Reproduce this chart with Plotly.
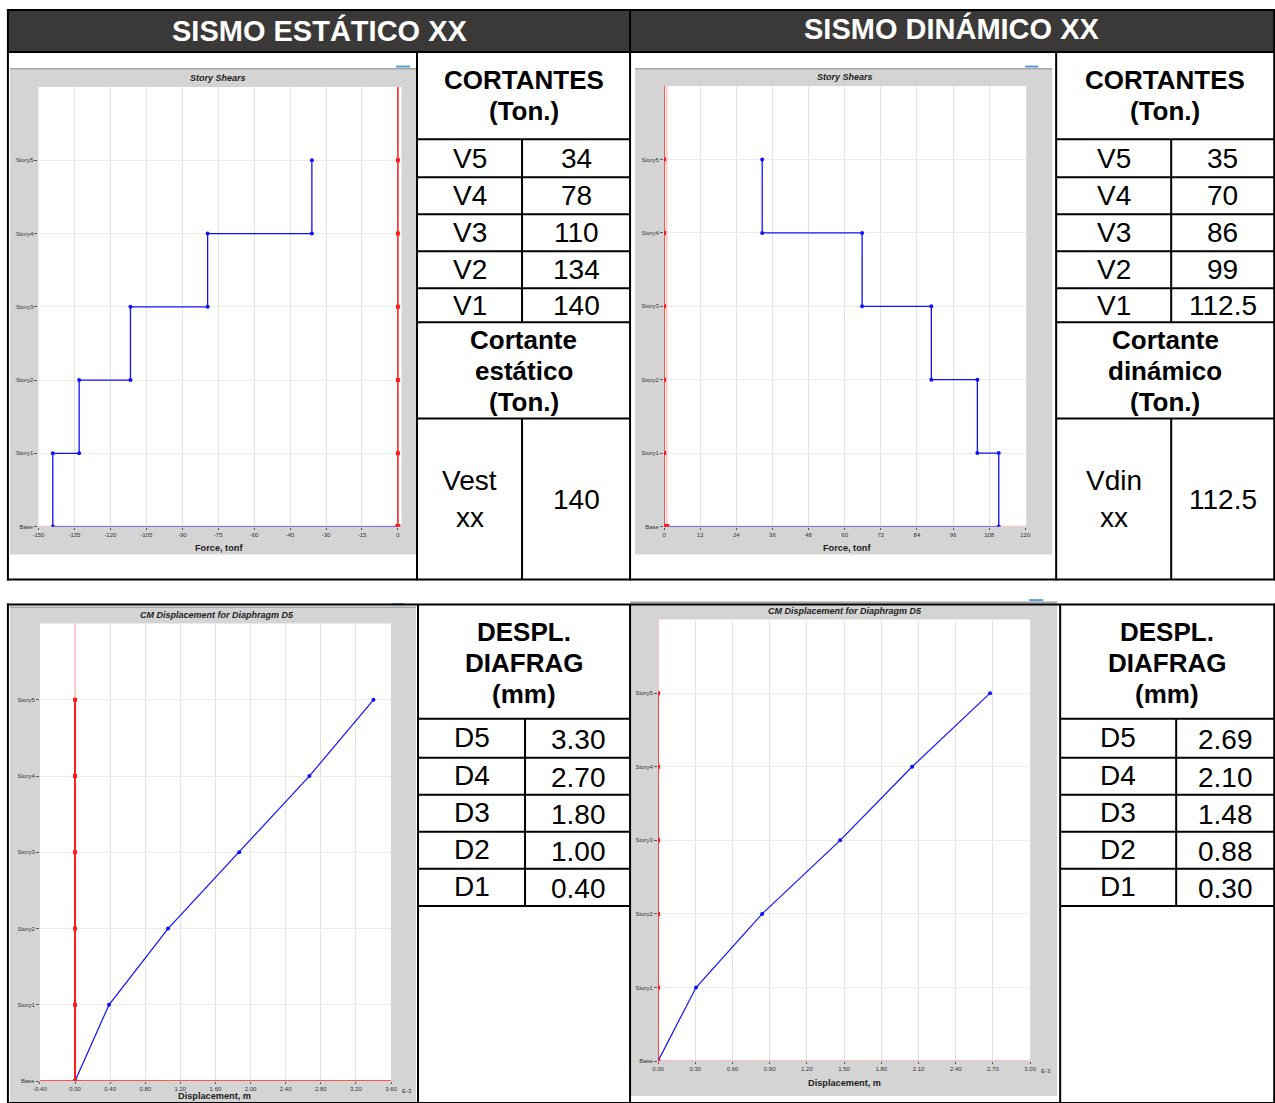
import plotly.graph_objects as go

# figure size; the picture-space coordinates below are mapped to paper
W, H = 1290, 1107
SX, OX = 0.9897, 7.08
SY, OY = 0.9963, 0.0

# ---------------- data ----------------
story_labels = ["Base", "Story1", "Story2", "Story3", "Story4", "Story5"]
story_levels = [0, 1, 2, 3, 4, 5]

# Story shears (tonf), Story1..Story5
static_shear = [-144.0, -133.0, -111.6, -79.4, -35.9]
dynamic_shear = [111.2, 104.1, 88.8, 65.8, 32.6]
ortho_zero = [0, 0, 0, 0, 0, 0]

# CM displacement for diaphragm D5 (E-3 m), Base..Story5
static_disp = [0.0, 0.387, 1.06, 1.87, 2.67, 3.40]
dynamic_disp = [0.0, 0.306, 0.839, 1.468, 2.048, 2.677]

# axis ticks
xt_static_shear = [-150, -135, -120, -105, -90, -75, -60, -45, -30, -15, 0]
xt_dynamic_shear = [0, 12, 24, 36, 48, 60, 72, 84, 96, 108, 120]
xt_static_disp = [-0.40, 0.00, 0.40, 0.80, 1.20, 1.60, 2.00, 2.40, 2.80, 3.20, 3.60]
xt_dynamic_disp = [0.00, 0.30, 0.60, 0.90, 1.20, 1.50, 1.80, 2.10, 2.40, 2.70, 3.00]

# table texts
header_static = "SISMO ESTÁTICO XX"
header_dynamic = "SISMO DINÁMICO XX"
shear_head = ["CORTANTES", "(Ton.)"]
static_base_head = ["Cortante", "estático", "(Ton.)"]
dynamic_base_head = ["Cortante", "dinámico", "(Ton.)"]
disp_head = ["DESPL.", "DIAFRAG", "(mm)"]
shear_labels = ["V5", "V4", "V3", "V2", "V1"]
shear_static_vals = ["34", "78", "110", "134", "140"]
shear_dynamic_vals = ["35", "70", "86", "99", "112.5"]
base_static = (["Vest", "xx"], "140")
base_dynamic = (["Vdin", "xx"], "112.5")
disp_labels = ["D5", "D4", "D3", "D2", "D1"]
disp_static_vals = ["3.30", "2.70", "1.80", "1.00", "0.40"]
disp_dynamic_vals = ["2.69", "2.10", "1.48", "0.88", "0.30"]

# ---------------- helpers ----------------
def fx(px):
    return ((px - OX) / SX) / W

def fy(py):
    return 1 - ((py - OY) / SY) / H

FONT = "Liberation Sans, Arial, sans-serif"
shapes = []
annotations = []

def rect(x0, y0, x1, y1, fill, layer="below"):
    shapes.append(dict(type="rect", xref="paper", yref="paper", x0=fx(x0), x1=fx(x1),
                       y0=fy(y1), y1=fy(y0), fillcolor=fill, line=dict(width=0), layer=layer))

def hline(y, x0, x1, w=2, color="black"):
    shapes.append(dict(type="line", xref="paper", yref="paper", x0=fx(x0), x1=fx(x1),
                       y0=fy(y), y1=fy(y), line=dict(color=color, width=w), layer="above"))

def vline(x, y0, y1, w=2, color="black"):
    shapes.append(dict(type="line", xref="paper", yref="paper", x0=fx(x), x1=fx(x),
                       y0=fy(y0), y1=fy(y1), line=dict(color=color, width=w), layer="above"))

def text(x, y, s, size, bold=False, color="black", italic=False, xanchor="center", yanchor="middle"):
    if italic:
        s = "<i>" + s + "</i>"
    if bold:
        s = "<b>" + s + "</b>"
    annotations.append(dict(xref="paper", yref="paper", x=fx(x), y=fy(y), text=s, showarrow=False,
                            xanchor=xanchor, yanchor=yanchor,
                            font=dict(family=FONT, size=size, color=color)))

def lines(x, ys, texts, size, bold=False):
    for yy, tt in zip(ys, texts):
        text(x, yy, tt, size, bold=bold)

fig = go.Figure()

# ---------------- chart panels ----------------
panels = [
    # gray panel (x0,y0,x1,y1), plot area (x0,y0,x1,y1), blue tab
    ((10, 68, 416, 554), (38.5, 87, 401.5, 526), (396, 65.5, 410, 67.5)),
    ((635, 68, 1052, 554), (664, 86, 1026, 526), (1025, 65.5, 1038, 67.5)),
    ((10, 606, 416, 1103), (40, 623, 391, 1080), (391, 602.5, 404, 604.5)),
    ((630, 601, 1057, 1095), (658, 619, 1030, 1060), (1029, 598.5, 1043, 600.5)),
]
for g, p, b in panels:
    rect(*g, "#d4d4d4")
    rect(g[0], g[1], g[2], g[1] + 1.5, "#a8a8a8")
    rect(*p, "#ffffff")
    rect(*b, "#5b9bd5")

BLUE = "#1010ff"
RED = "#ff1a1a"
PALE_RED = "#ffaaaa"

def story_axes(i, plot, xrange_, xticks, xlabels):
    x0, y0, x1, y1 = plot
    sfx = "" if i == 1 else str(i)
    fig.update_layout(**{
        "xaxis" + sfx: dict(domain=[fx(x0), fx(x1)], range=xrange_, anchor="y" + sfx,
                            tickvals=xticks, ticktext=xlabels, showgrid=True,
                            gridcolor="#e2e2e2", gridwidth=1, zeroline=False,
                            ticks="outside", ticklen=2, tickcolor="#555", showline=False,
                            tickfont=dict(family=FONT, size=6, color="#333"), fixedrange=True),
        "yaxis" + sfx: dict(domain=[fy(y1), fy(y0)], range=[0, 6], anchor="x" + sfx,
                            tickvals=story_levels, ticktext=story_labels, showgrid=True,
                            gridcolor="#ececec", gridwidth=1, zeroline=False,
                            ticks="outside", ticklen=3, tickcolor="#555", showline=False,
                            tickfont=dict(family=FONT, size=6, color="#333"), fixedrange=True),
    })

def add(i, **kw):
    sfx = "" if i == 1 else str(i)
    fig.add_trace(go.Scatter(xaxis="x" + sfx, yaxis="y" + sfx, showlegend=False, hoverinfo="skip", **kw))

def step_path(values):
    xs, ys = [0, values[0]], [0, 0]
    for k, v in enumerate(values):
        xs += [v, v]
        ys += [k, k + 1]
    return xs, ys

def vertices(values):
    xs, ys = [], []
    for k, v in enumerate(values):
        xs += [v, v]
        ys += [k, k + 1]
    return xs, ys

# --- chart 1: static story shears
story_axes(1, panels[0][1], [-150, 1.5], xt_static_shear, [str(v) for v in xt_static_shear])
add(1, x=[-150, 1.5], y=[0, 0], mode="lines", line=dict(color=PALE_RED, width=1.5))
add(1, x=[0, 0], y=[0, 6], mode="lines", line=dict(color=RED, width=1.5))
add(1, x=ortho_zero, y=story_levels, mode="markers", marker=dict(color=RED, size=4, symbol="square"))
sx, sy = step_path(static_shear)
add(1, x=sx, y=sy, mode="lines", line=dict(color=BLUE, width=1.3))
vx, vy = vertices(static_shear)
add(1, x=vx, y=vy, mode="markers", marker=dict(color=BLUE, size=4))
add(1, x=[0], y=[0], mode="markers", marker=dict(color=RED, size=5, symbol="square"))

# --- chart 2: dynamic story shears
story_axes(2, panels[1][1], [0, 120.3], xt_dynamic_shear, [str(v) for v in xt_dynamic_shear])
add(2, x=[0, 120.3], y=[0, 0], mode="lines", line=dict(color=PALE_RED, width=1.5))
add(2, x=[0.9, 0.9], y=[0, 6], mode="lines", line=dict(color=PALE_RED, width=1))
add(2, x=[0, 0], y=[0, 6], mode="lines", line=dict(color=RED, width=1.5))
add(2, x=ortho_zero, y=story_levels, mode="markers", marker=dict(color=RED, size=4, symbol="square"))
sx, sy = step_path(dynamic_shear)
add(2, x=sx, y=sy, mode="lines", line=dict(color=BLUE, width=1.3))
vx, vy = vertices(dynamic_shear)
add(2, x=vx, y=vy, mode="markers", marker=dict(color=BLUE, size=4))
add(2, x=[0, 0.9], y=[0, 0], mode="markers", marker=dict(color=RED, size=5, symbol="square"))

# --- chart 3: static displacements
story_axes(3, panels[2][1], [-0.4, 3.6], xt_static_disp, ["%.2f" % v for v in xt_static_disp])
add(3, x=[-0.4, 3.6], y=[0, 0], mode="lines", line=dict(color=RED, width=1.5))
add(3, x=[0, 0], y=[0, 6], mode="lines", line=dict(color=PALE_RED, width=1))
add(3, x=ortho_zero, y=story_levels, mode="lines+markers", line=dict(color=RED, width=2),
    marker=dict(color=RED, size=4, symbol="square"))
add(3, x=static_disp, y=story_levels, mode="lines+markers", line=dict(color=BLUE, width=1.2),
    marker=dict(color=BLUE, size=4))
add(3, x=[0], y=[0], mode="markers", marker=dict(color=RED, size=5))

# --- chart 4: dynamic displacements
story_axes(4, panels[3][1], [0, 3.0], xt_dynamic_disp, ["%.2f" % v for v in xt_dynamic_disp])
add(4, x=[0, 3.0], y=[0, 0], mode="lines", line=dict(color=PALE_RED, width=1.5))
add(4, x=[0, 0], y=[0, 6], mode="lines", line=dict(color=PALE_RED, width=1.2))
add(4, x=ortho_zero, y=story_levels, mode="lines+markers", line=dict(color=RED, width=1.5),
    marker=dict(color=RED, size=4, symbol="square"))
add(4, x=dynamic_disp, y=story_levels, mode="lines+markers", line=dict(color=BLUE, width=1.2),
    marker=dict(color=BLUE, size=4))
add(4, x=[0], y=[0], mode="markers", marker=dict(color=RED, size=5))

# chart titles / axis titles
text(218, 78, "Story Shears", 9, bold=True, italic=True, color="#222")
text(845, 77, "Story Shears", 9, bold=True, italic=True, color="#222")
text(217, 614, "CM Displacement for Diaphragm D5", 9, bold=True, italic=True, color="#222")
text(845, 610, "CM Displacement for Diaphragm D5", 9, bold=True, italic=True, color="#222")
text(219, 547, "Force, tonf", 9.2, bold=True, color="#222")
text(847, 547, "Force, tonf", 9.2, bold=True, color="#222")
text(215, 1095, "Displacement, m", 9.2, bold=True, color="#222")
text(844, 1082, "Displacement, m", 9.2, bold=True, color="#222")
text(400, 1090, "E-3", 6, color="#333", xanchor="left")
text(1039, 1070, "E-3", 6, color="#333", xanchor="left")

# ---------------- tables ----------------
rect(8, 10, 1274, 52, "#3a3938", layer="above")
text(320, 30, header_static, 29, bold=True, color="white")
text(952, 28, header_dynamic, 29, bold=True, color="white")

# top table lines
hline(10, 7, 1275)
hline(52, 7, 1275)
hline(579, 7, 1275)
vline(8, 9, 580)
vline(1274, 9, 580)
vline(630, 9, 580)
vline(417, 52, 580)
vline(1056, 52, 580)
row_bounds_top = [139, 177, 214, 251, 288, 322, 418]
for y in row_bounds_top:
    hline(y, 417, 630)
    hline(y, 1056, 1274)
vline(522, 139, 322)
vline(522, 418, 579)
vline(1171, 139, 322)
vline(1171, 418, 579)

lines(523.5, [80, 111], shear_head, 26, bold=True)
lines(1165, [80, 111], shear_head, 26, bold=True)
for k in range(5):
    yc = (row_bounds_top[k] + row_bounds_top[k + 1]) / 2
    text(469.5, yc, shear_labels[k], 28)
    text(576, yc, shear_static_vals[k], 28)
    text(1113.5, yc, shear_labels[k], 28)
    text(1222.5, yc, shear_dynamic_vals[k], 28)
lines(523.5, [340, 371, 402], static_base_head, 26, bold=True)
lines(1165, [340, 371, 402], dynamic_base_head, 26, bold=True)
lines(469.5, [480, 517], base_static[0], 28)
text(576, 499, base_static[1], 28)
lines(1113.5, [480, 517], base_dynamic[0], 28)
text(1222.5, 499, base_dynamic[1], 28)

# bottom table lines
hline(604, 7, 1275)
hline(1102, 7, 1275)
vline(8, 603, 1103)
vline(1274, 603, 1103)
vline(418, 604, 1103)
vline(630, 604, 1103)
vline(1060, 604, 1103)
row_bounds_bot = [718, 757, 794, 831, 868, 905]
for y in row_bounds_bot:
    hline(y, 418, 630)
    hline(y, 1060, 1274)
vline(525, 718, 905)
vline(1176, 718, 905)

lines(524, [631, 662, 693], disp_head, 26, bold=True)
lines(1167, [631, 662, 693], disp_head, 26, bold=True)
for k in range(5):
    yc = (row_bounds_bot[k] + row_bounds_bot[k + 1]) / 2
    text(471.5, yc - 1, disp_labels[k], 28)
    text(578, yc + 1, disp_static_vals[k], 28)
    text(1118, yc - 1, disp_labels[k], 28)
    text(1225, yc + 1, disp_dynamic_vals[k], 28)

fig.update_layout(
    width=W, height=H, margin=dict(l=0, r=0, t=0, b=0),
    paper_bgcolor="white", plot_bgcolor="rgba(0,0,0,0)",
    shapes=shapes, annotations=annotations, showlegend=False,
    font=dict(family=FONT),
)

fig.write_html(
    "out.html",
    config={"displayModeBar": False},
    post_script="document.body.style.margin='0';document.body.style.padding='0';"
                "document.documentElement.style.overflow='hidden';document.body.style.overflow='hidden';",
)
